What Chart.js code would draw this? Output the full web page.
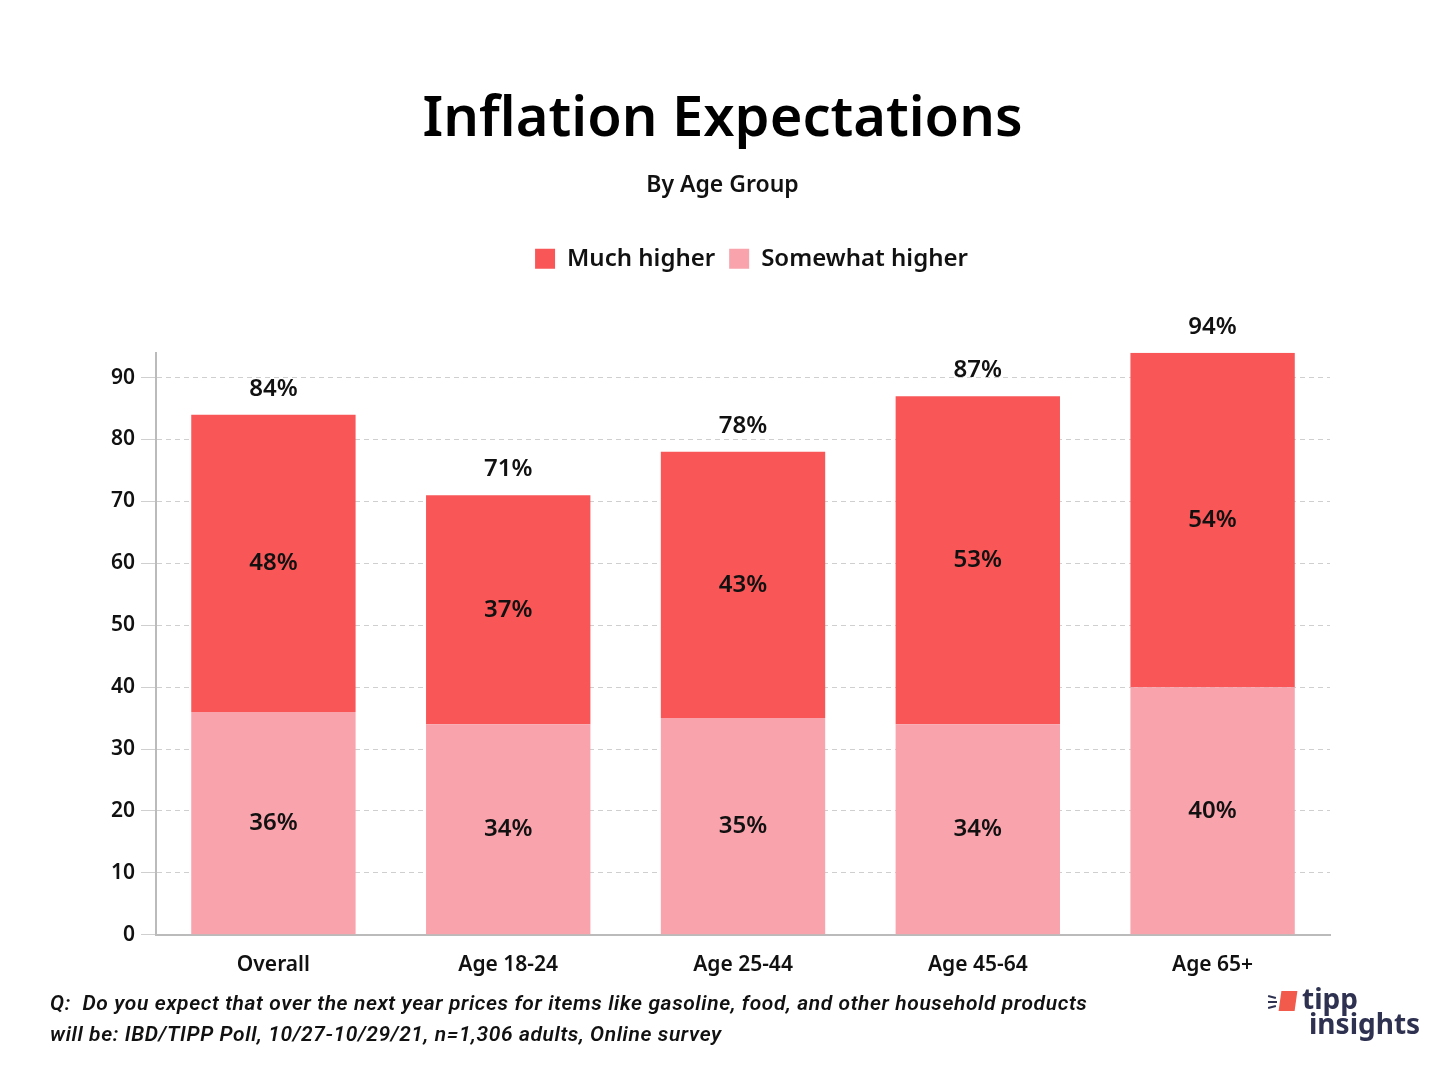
<!DOCTYPE html>
<html>
<head>
<meta charset="utf-8">
<script src="https://cdn.jsdelivr.net/npm/chart.js@4.4.0/dist/chart.umd.min.js"></script>
<style>
  body { margin: 0; background: #fff; }
  #wrap { position: relative; width: 1440px; height: 1080px; }
  #note {
    position: absolute; left: 50px; top: 988px;
    font-family: Roboto, sans-serif; font-style: italic; font-weight: 600;
    font-size: 21px; letter-spacing: 0.6px; line-height: 31px; color: #111;
  }
  #logo {
    position: absolute; left: 1268px; top: 986px;
    font-family: "Noto Sans", sans-serif; font-weight: 700; color: #2e3150;
    font-size: 28px; line-height: 24px;
  }
  #logo .mark { display: inline-block; width: 16px; height: 20px; background: #f25a4b; margin-right: 6px; transform: skewX(-8deg); vertical-align: -2px; }
  #logo .rays { position: relative; display: inline-block; width: 10px; height: 14px; margin-right: 2px; vertical-align: 0px; }
  #logo .rays i { position: absolute; left: 0; height: 2px; background: #2e3150; }
</style>
</head>
<body>
<div id="wrap">
  <canvas id="chart" width="1440" height="1080"></canvas>
  <div id="note">Q:&nbsp; Do you expect that over the next year prices for items like gasoline, food, and other household products<br>will be: IBD/TIPP Poll, 10/27-10/29/21, n=1,306 adults, Online survey</div>
  <div id="logo"><span class="rays"><i style="top:1px;width:8px;transform:rotate(15deg)"></i><i style="top:6px;width:9px"></i><i style="top:11px;width:8px;transform:rotate(-15deg)"></i></span><span class="mark"></span>tipp<br><span style="padding-left:41px">insights</span></div>
</div>
<script>
const groups = ['Overall', 'Age 18-24', 'Age 25-44', 'Age 45-64', 'Age 65+'];
const somewhatHigher = [36, 34, 35, 34, 40];
const muchHigher = [48, 37, 43, 53, 54];
const totals = [84, 71, 78, 87, 94];

const FONT = '"Noto Sans", sans-serif';

// labels inside each segment plus the total above each bar
const barLabels = {
    id: 'barLabels',
    afterDatasetsDraw(chart) {
        const ctx = chart.ctx;
        ctx.save();
        ctx.fillStyle = '#111';
        ctx.textAlign = 'center';
        ctx.textBaseline = 'middle';
        ctx.font = '600 24px ' + FONT;
        chart.data.datasets.forEach((ds, i) => {
            chart.getDatasetMeta(i).data.forEach((bar, j) => {
                const mid = (bar.y + bar.base) / 2;
                ctx.fillText(ds.data[j] + '%', bar.x, mid);
            });
        });
        const top = chart.getDatasetMeta(1).data;
        top.forEach((bar, j) => {
            ctx.fillText(totals[j] + '%', bar.x, bar.y - 26);
        });
        ctx.restore();
    }
};

// push the plot down below the legend, and nudge the header blocks
const legendGap = {
    id: 'legendGap',
    beforeInit(chart) {
        const fit = chart.legend.fit;
        chart.legend.fit = function () {
            fit.bind(chart.legend)();
            this.height += 72;
        };
    },
    afterLayout(chart) {
        const shift = (box, dx) => { box.left += dx; box.right += dx; };
        chart.boxes.forEach(b => {
            if (b === chart.legend) shift(b, 34);
            else if (b.options && (b.options.text === 'Inflation Expectations' || b.options.text === 'By Age Group')) shift(b, 5);
        });
    }
};

new Chart(document.getElementById('chart'), {
    type: 'bar',
    data: {
        labels: groups,
        datasets: [{
            label: 'Somewhat higher',
            data: somewhatHigher,
            backgroundColor: '#f9a3ac'
        }, {
            label: 'Much higher',
            data: muchHigher,
            backgroundColor: '#f95757'
        }]
    },
    options: {
        responsive: false,
        animation: false,
        barPercentage: 0.7,
        categoryPercentage: 1,
        layout: { padding: { top: 86, left: 105, right: 110, bottom: 92 } },
        plugins: {
            title: {
                display: true,
                text: 'Inflation Expectations',
                color: '#000',
                font: { family: FONT, size: 56, weight: '600' },
                padding: { top: 0, bottom: 18 }
            },
            subtitle: {
                display: true,
                text: 'By Age Group',
                color: '#111',
                font: { family: FONT, size: 23, weight: '600' },
                padding: { bottom: 34 }
            },
            legend: {
                reverse: true,
                labels: {
                    color: '#111',
                    font: { family: FONT, size: 24, weight: '600' },
                    boxWidth: 20,
                    boxHeight: 20,
                    padding: 14
                }
            },
            tooltip: { enabled: false }
        },
        scales: {
            x: {
                stacked: true,
                grid: { display: false },
                border: { color: '#bbb', width: 2 },
                ticks: { color: '#111', font: { family: FONT, size: 21, weight: '600' }, padding: 10 }
            },
            y: {
                stacked: true,
                min: 0,
                max: 94,
                afterBuildTicks: axis => {
                    axis.ticks = axis.ticks.filter(t => t.value % 10 === 0);
                },
                grid: { color: '#cfcfcf', tickLength: 15, drawTicks: true },
                border: { color: '#bbb', width: 2, dash: [5, 4] },
                ticks: { stepSize: 10, color: '#111', font: { family: FONT, size: 21, weight: '600' }, padding: 6 }
            }
        }
    },
    plugins: [barLabels, legendGap]
});
</script>
</body>
</html>
